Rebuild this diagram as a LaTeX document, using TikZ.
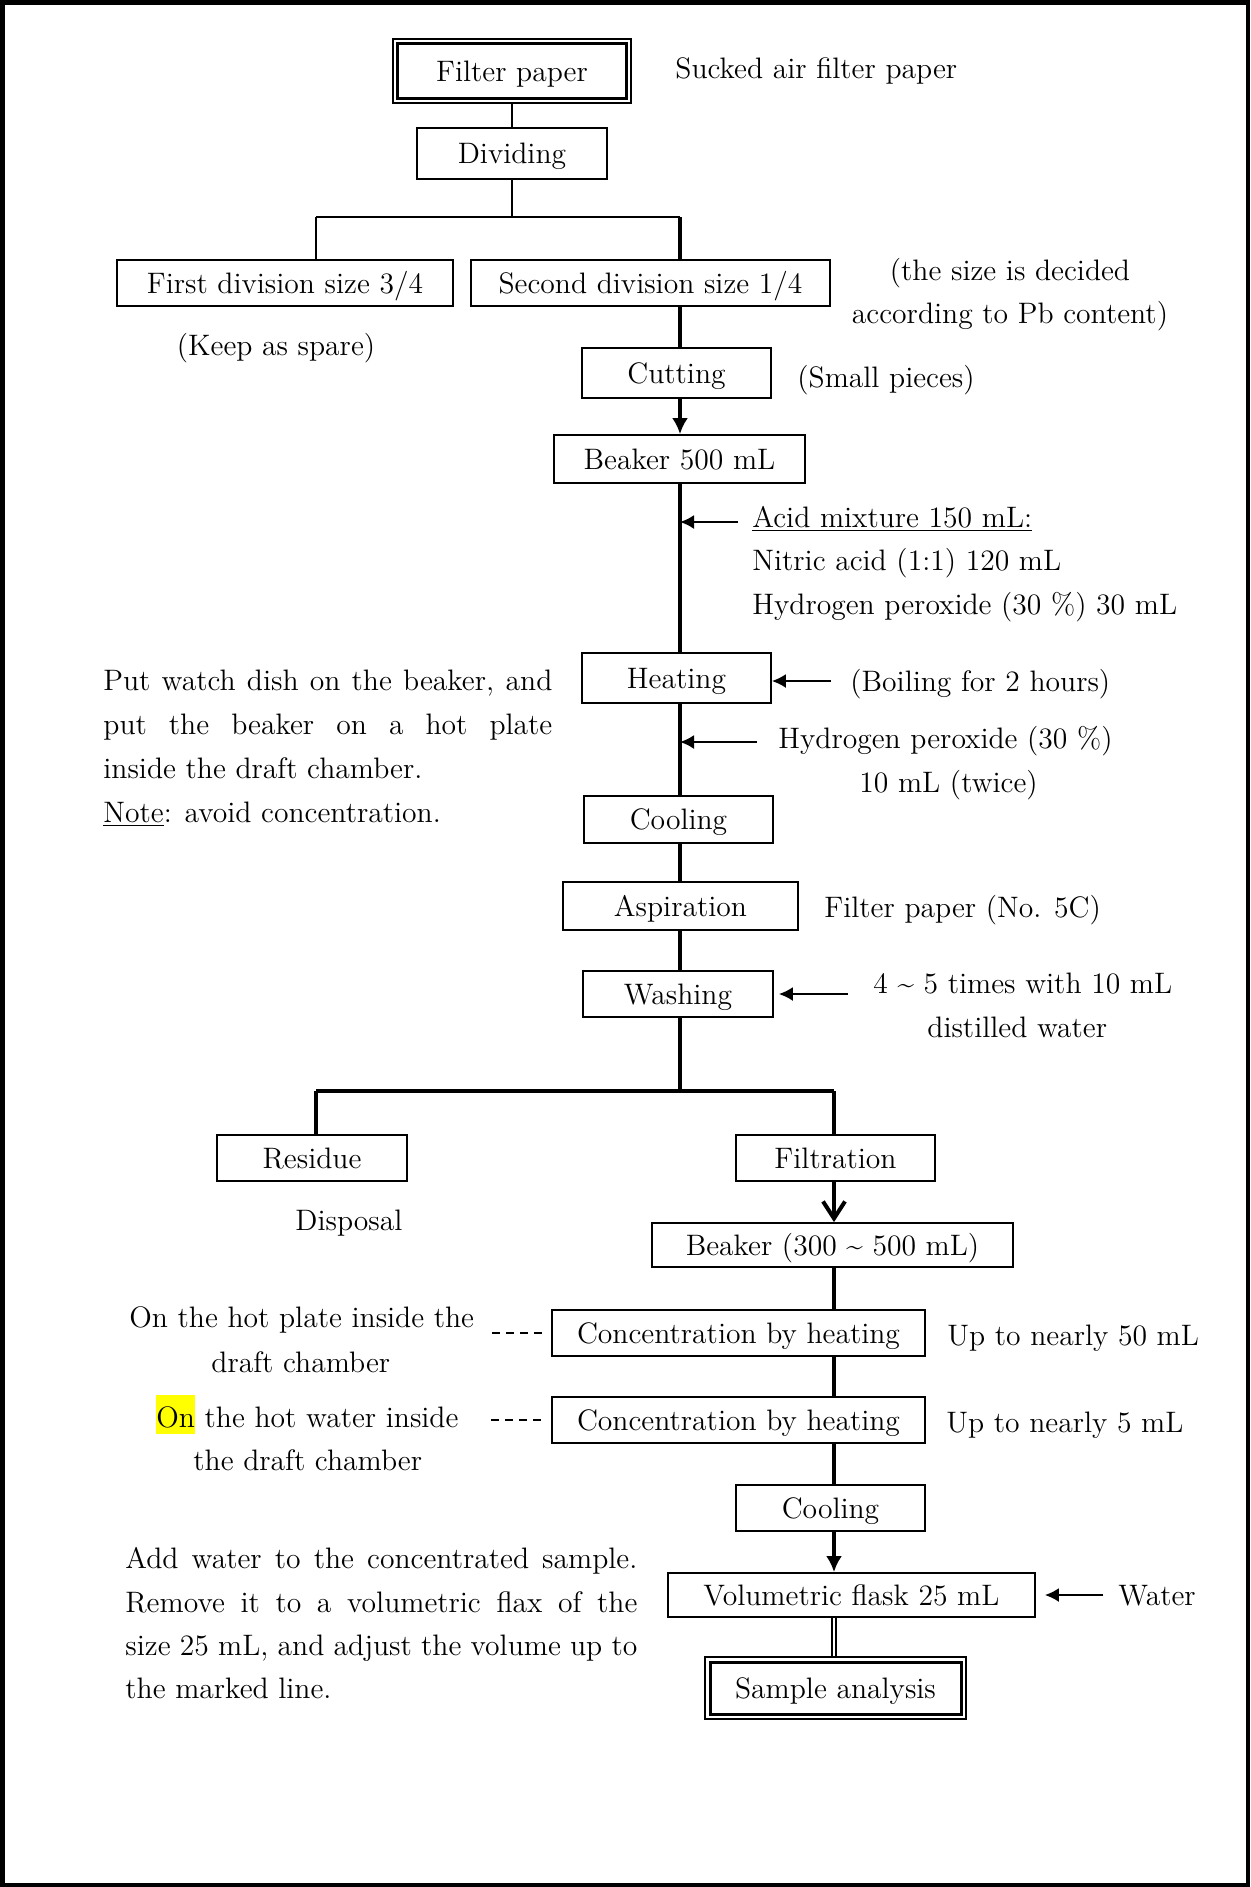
\documentclass[tikz,border=0pt]{standalone}
\usepackage{fontspec}
\usepackage{xcolor}
\usetikzlibrary{arrows.meta}
\definecolor{hl}{RGB}{255,255,0}
\newcommand\flowbox[7][]{%
  \node[box,#1,minimum width={(#5-#3)*0.5pt},minimum height={(#6-#4)*0.5pt}]
    (#2) at ({(#3+#5)/2},{(#4+#6)/2}) {#7};}
\newcommand\jline[2]{\makebox[#1][s]{#2}}
\begin{document}
\begin{tikzpicture}[x=0.5pt,y=-0.5pt,
  font=\fontsize{14.8}{18}\selectfont,
  box/.style={draw,line width=0.9pt,rectangle,inner sep=0pt,
    text height=10.1pt,text depth=0pt},
  txt/.style={inner sep=0pt,text height=10.1pt,text depth=0pt,anchor=west},
  ctxt/.style={inner sep=0pt,text height=10.1pt,text depth=0pt,anchor=center},
  thinline/.style={line width=0.85pt},
  trunk/.style={line width=2pt},
  feed/.style={line width=1pt,-{Latex[length=7pt,width=7pt]}},
  down/.style={line width=2pt,-{Latex[length=8pt,width=8pt]}},
  barb/.style={line width=2pt,-{Straight Barb[length=8.5pt,width=11pt,line width=2pt]}},
  tie/.style={line width=0.8pt,dash pattern=on 4pt off 3pt},
]
\useasboundingbox (0,0) rectangle (1250,1887);
% page frame
\draw[line width=2.25pt] (2.25,2.25) rectangle (1247.75,1884.75);

% trunk positions
\coordinate (tr) at (680,0);
\coordinate (tr2) at (834,0);
\coordinate (sl) at (316,217);
\coordinate (sr) at (680,217);
\coordinate (bl) at (316,1091);
\coordinate (br) at (834,1091);

% process boxes
\flowbox[line width=1.3pt]{filter}{393}{39}{631}{103}{Filter paper}
\draw[line width=1.5pt] ([shift={(5.5,5.5)}]filter.north west) rectangle ([shift={(-5.5,-5.5)}]filter.south east);
\flowbox{divide}{417}{128}{607}{179}{Dividing}
\flowbox{first}{117}{260}{453}{306}{First division size 3/4}
\flowbox{second}{471}{260}{830}{306}{Second division size 1/4}
\flowbox{cut}{582}{348}{771}{398}{Cutting}
\flowbox{beaker}{554}{435}{805}{483}{Beaker 500 mL}
\flowbox{heat}{582}{653}{771}{703}{Heating}
\flowbox{cool}{584}{796}{773}{843}{Cooling}
\flowbox{aspir}{563}{882}{798}{930}{Aspiration}
\flowbox{wash}{583}{971}{773}{1017}{Washing}
\flowbox{residue}{217}{1135}{407}{1181}{Residue}
\flowbox{filtr}{736}{1135}{935}{1181}{Filtration}
\flowbox{beakerb}{652}{1223}{1013}{1267}{Beaker (300 \textasciitilde{} 500 mL)}
\flowbox{concA}{552}{1310}{925}{1356}{Concentration by heating}
\flowbox{concB}{552}{1397}{925}{1443}{Concentration by heating}
\flowbox{coolB}{736}{1485}{925}{1531}{Cooling}
\flowbox{flask}{668}{1573}{1035}{1617}{Volumetric flask 25 mL}
\flowbox[line width=1pt]{sample}{705}{1657}{966}{1719}{Sample analysis}
\draw[line width=1.5pt] ([shift={(6,6)}]sample.north west) rectangle ([shift={(-6,-6)}]sample.south east);

% connectors, upper part
\draw[thinline] (filter.south) -- (divide.north);
\draw[thinline] (divide.south) -- (divide.south |- sl);
\draw[thinline] (sl) -- (sr);
\draw[thinline] (sl) -- (sl |- first.north);
\draw[trunk] (sr) -- (sr |- second.north);
\draw[trunk] (second.south -| tr) -- (cut.north -| tr);
\draw[down] (cut.south -| tr) -- (beaker.north -| tr);
\draw[trunk] (beaker.south -| tr) -- (heat.north -| tr);
\draw[trunk] (heat.south -| tr) -- (cool.north -| tr);
\draw[trunk] (cool.south -| tr) -- (aspir.north -| tr);
\draw[trunk] (aspir.south -| tr) -- (wash.north -| tr);
\draw[trunk] (wash.south -| tr) -- (tr |- bl);
\draw[trunk] (bl) -- (br);
\draw[trunk] (bl) -- (bl |- residue.north);
\draw[trunk] (br) -- (br |- filtr.north);

% connectors, lower part
\draw[barb] (filtr.south -| tr2) -- (beakerb.north -| tr2);
\draw[trunk] (beakerb.south -| tr2) -- (concA.north -| tr2);
\draw[trunk] (concA.south -| tr2) -- (concB.north -| tr2);
\draw[trunk] (concB.south -| tr2) -- (coolB.north -| tr2);
\draw[down] (coolB.south -| tr2) -- (flask.north -| tr2);
\draw[line width=0.7pt,double,double distance=1.2pt] (flask.south -| tr2) -- (sample.north -| tr2);

% side texts
\node[txt] (sucked) at (675,68) {Sucked air filter paper};
\node[ctxt] (sizeA) at (1010,270) {(the size is decided};
\node[ctxt] (sizeB) at (1010,313) {according to Pb content)};
\node[ctxt] (spare) at (276,345) {(Keep as spare)};
\node[txt] (pieces) at (797,377) {(Small pieces)};
\node[txt] (acid) at (752,517) {\underline{Acid mixture 150 mL:}};
\node[txt] (nitric) at (752,560) {Nitric acid (1:1) 120 mL};
\node[txt] (perox) at (752,604) {Hydrogen peroxide (30 \%) 30 mL};
\node[txt] (paraA) at (103,680) {\jline{224.5pt}{Put watch dish on the beaker, and}};
\node[txt] (paraB) at (103,724) {\jline{224.5pt}{put the beaker on a hot plate}};
\node[txt] (paraC) at (103,768) {inside the draft chamber.};
\node[txt] (paraD) at (103,812) {\underline{Note}: avoid concentration.};
\node[txt] (boil) at (850,681) {(Boiling for 2 hours)};
\node[txt] (peroxB) at (778,738) {Hydrogen peroxide (30 \%)};
\node[txt] (twice) at (859,782) {10 mL (twice)};
\node[txt] (nofive) at (824,907) {Filter paper (No. 5C)};
\node[txt] (times) at (873,983) {4 \textasciitilde{} 5 times with 10 mL};
\node[txt] (distil) at (927,1027) {distilled water};
\node[txt] (dispo) at (295,1220) {Disposal};
\node[txt] (plateA) at (129,1317) {On the hot plate inside the};
\node[txt] (plateB) at (211,1362) {draft chamber};
\node[txt] (fifty) at (947,1335) {Up to nearly 50 mL};
\node[txt] (waterA) at (156,1417) {{\setlength{\fboxsep}{0pt}\colorbox{hl}{\rule[-3.2pt]{0pt}{19.5pt}On}} the hot water inside};
\node[txt] (waterB) at (193,1460) {the draft chamber};
\node[txt] (five) at (946,1422) {Up to nearly 5 mL};
\node[txt] (addA) at (125,1558) {\jline{256pt}{Add water to the concentrated sample.}};
\node[txt] (addB) at (125,1602) {\jline{256pt}{Remove it to a volumetric flax of the}};
\node[txt] (addC) at (125,1645) {\jline{256pt}{size 25 mL, and adjust the volume up to}};
\node[txt] (addD) at (125,1688) {the marked line.};
\node[txt] (water) at (1118,1595) {Water};

% feeds into the trunk
\draw[feed] (acid.west) ++(-14,5) -- (tr |- 0,522);
\draw[feed] ([xshift=-9.5pt]boil.west) -- (heat.east |- boil.west);
\draw[feed] (peroxB.west) ++(-21,4) -- (tr |- 0,742);
\draw[feed] (times.west) ++(-25,11) -- ([xshift=2.5pt]wash.east |- 0,994);
\draw[feed] (water.west) ++(-15,0) -- ([xshift=4.5pt]flask.east);

% dashed ties
\draw[tie] ([xshift=-4.5pt]concA.west) -- ([xshift=-29.5pt]concA.west);
\draw[tie] ([xshift=-5pt]concB.west) -- ([xshift=-30pt]concB.west);
\end{tikzpicture}
\end{document}
